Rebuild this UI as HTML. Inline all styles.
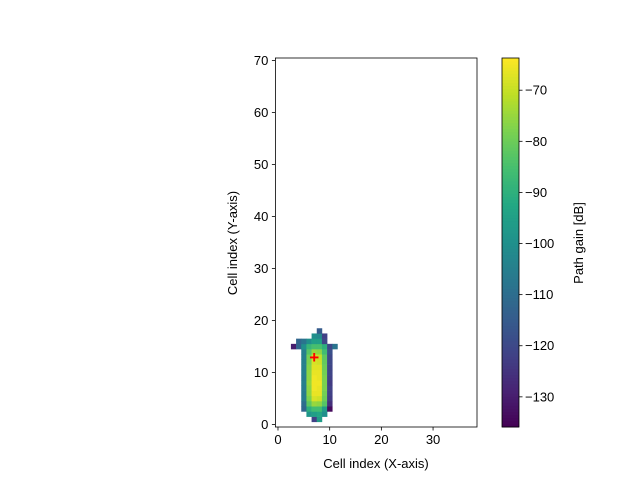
<!DOCTYPE html>
<html><head><meta charset="utf-8"><style>
body{margin:0;background:#fff}
svg text{font-family:"Liberation Sans","DejaVu Sans",sans-serif;font-size:13px;fill:#000}
</style></head><body>
<svg id="c" width="640" height="480" xmlns="http://www.w3.org/2000/svg"></svg>
<script>
// data: each row is [j, firstColumn, values...]
const rowIndex = [1,2,3,4,5,6,7,8,9,10,11,12,13,14,15,16,17,18];
const rowStart = [7,6,5,5,5,5,5,5,5,5,5,5,5,5,3,4,7,8];
const rowValues = [
 [-122,-96],
 [-98,-95,-93,-100],
 [-112,-90,-86,-86,-96,-134],
 [-110,-82,-75,-76,-83,-126],
 [-106,-78,-68,-69,-80,-123],
 [-106,-76,-66,-66,-79,-122],
 [-106,-76,-65,-66,-78,-122],
 [-105,-75,-65,-65,-78,-123],
 [-106,-76,-65,-66,-78,-122],
 [-105,-76,-66,-66,-79,-121],
 [-105,-77,-67,-67,-80,-121],
 [-105,-78,-68,-69,-81,-120],
 [-105,-79,-69,-70,-82,-120],
 [-105,-83,-75,-76,-86,-118],
 [-130,-112,-100,-88,-85,-85,-90,-120,-108],
 [-112,-108,-100,-95,-95,-120],
 [-100,-102,-122],
 [-115]
];
const xTicks=[0,10,20,30], yTicks=[0,10,20,30,40,50,60,70], cTicks=[-70,-80,-90,-100,-110,-120,-130];
const vmin=-135.9, vmax=-63.7, marker=[7,13];
const NS="http://www.w3.org/2000/svg", svg=document.getElementById('c');
const X0=275.4,X1=477,Y0=427,Y1=58, xmin=-0.5,xmax=38.5,ymin=-0.5,ymax=70.5;
const sx=v=>X0+(v-xmin)/(xmax-xmin)*(X1-X0), sy=v=>Y0-(v-ymin)/(ymax-ymin)*(Y0-Y1);
const vir=[[68,1,84],[72,35,116],[64,67,135],[52,94,141],[41,120,142],[32,144,140],[34,167,132],[68,190,112],[121,209,81],[189,223,38],[253,231,37]];
function cmap(v){let t=Math.max(0,Math.min(1,(v-vmin)/(vmax-vmin)))*10;let i=Math.min(9,Math.floor(t)),f=t-i;const a=vir[i],b=vir[i+1];return `rgb(${a.map((c,k)=>Math.round(c+(b[k]-c)*f)).join(',')})`;}
function el(tag,at,txt){const e=document.createElementNS(NS,tag);for(const k in at)e.setAttribute(k,at[k]);if(txt!=null)e.textContent=txt;svg.appendChild(e);return e;}
rowIndex.forEach((j,r)=>{rowValues[r].forEach((v,k)=>{const i=rowStart[r]+k;
 const e=el('rect',{x:sx(i-0.5),y:sy(j+0.5),width:sx(i+0.5)-sx(i-0.5)+0.3,height:sy(j-0.5)-sy(j+0.5)+0.3,fill:cmap(v)});
 
 });});
const mk=el('text',{x:sx(marker[0]),y:sy(marker[1])+6,'text-anchor':'middle',style:'font-size:17px;font-weight:bold;fill:#ff0000'},'+');


const fr=el('rect',{x:X0,y:Y1,width:X1-X0,height:Y0-Y1,fill:'none',stroke:'#000','stroke-width':0.8});


xTicks.forEach(t=>{el('line',{x1:sx(t),x2:sx(t),y1:Y0,y2:Y0+3.5,stroke:'#000','stroke-width':0.8});
 const e=el('text',{x:sx(t),y:Y0+17,'text-anchor':'middle'},t);
 
 });
yTicks.forEach(t=>{el('line',{x1:X0,x2:X0-3.5,y1:sy(t),y2:sy(t),stroke:'#000','stroke-width':0.8});
 const e=el('text',{x:X0-7,y:sy(t)+4.5,'text-anchor':'end'},t);
 
 });
const xl=el('text',{x:376,y:468,'text-anchor':'middle'},'Cell index (X-axis)');


const yl=el('text',{x:237,y:243,'text-anchor':'middle',transform:'rotate(-90 237 243)'},'Cell index (Y-axis)');


// colorbar
const CX=502,CW=17;const cy=v=>Y0-(v-vmin)/(vmax-vmin)*(Y0-Y1);
for(let k=0;k<120;k++){const v0=vmin+(vmax-vmin)*k/120,v1=vmin+(vmax-vmin)*(k+1)/120;
 el('rect',{x:CX,y:cy(v1),width:CW,height:cy(v0)-cy(v1)+0.5,fill:cmap((v0+v1)/2)});}
const cb=el('rect',{x:CX,y:Y1,width:CW,height:Y0-Y1,fill:'none',stroke:'#000','stroke-width':0.8});


cTicks.forEach(t=>{el('line',{x1:CX+CW,x2:CX+CW+3.5,y1:cy(t),y2:cy(t),stroke:'#000','stroke-width':0.8});
 const e=el('text',{x:CX+CW+6,y:cy(t)+4.5},'\u2212'+Math.abs(t));
 
 });
const cl=el('text',{x:583,y:243,'text-anchor':'middle',transform:'rotate(-90 583 243)'},'Path gain [dB]');


</script></body></html>
